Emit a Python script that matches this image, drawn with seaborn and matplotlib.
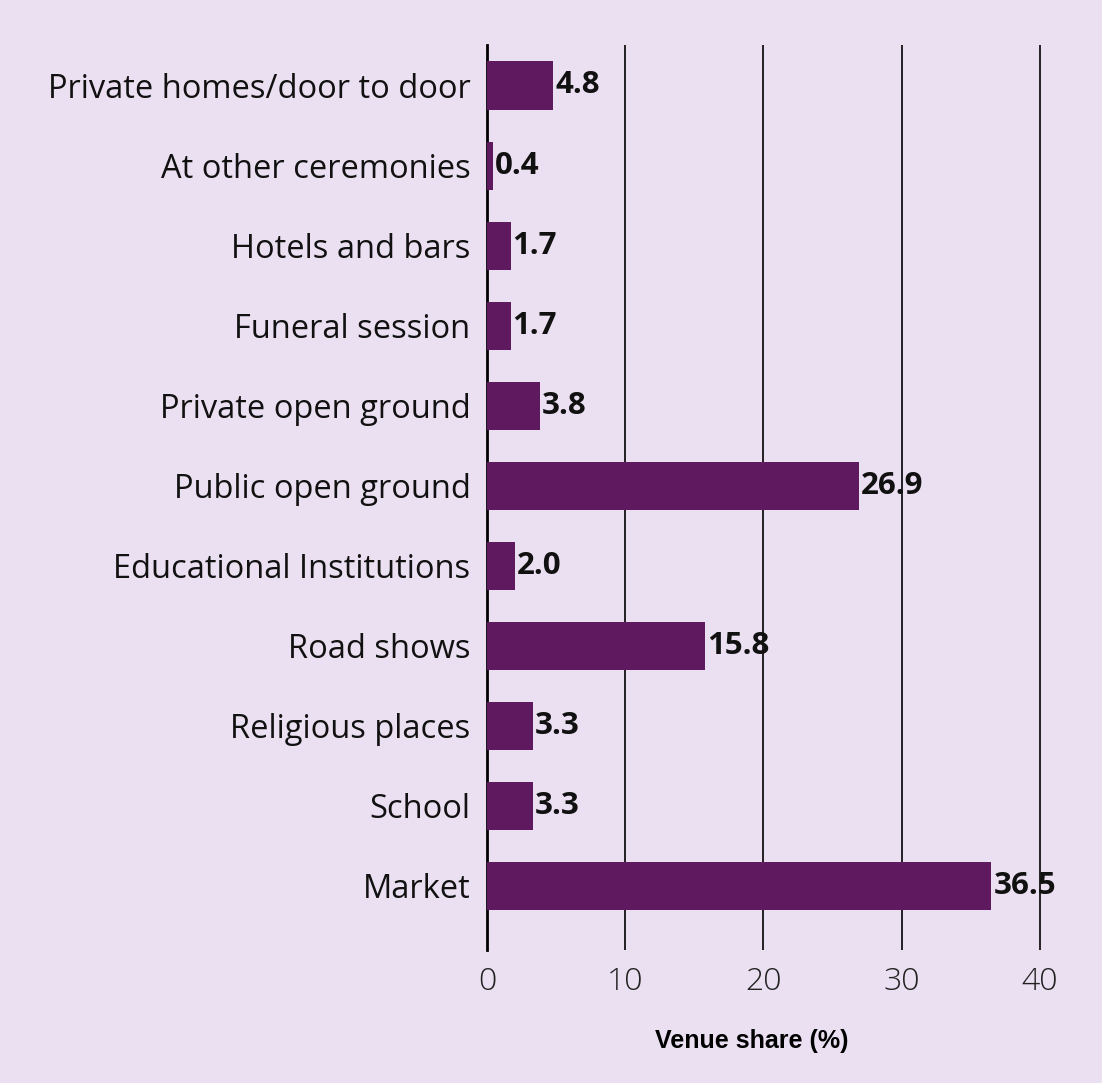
import matplotlib
matplotlib.use("Agg")
import matplotlib.pyplot as plt
import seaborn as sns
import pandas as pd

categories = ["Private homes/door to door", "At other ceremonies", "Hotels and bars",
              "Funeral session", "Private open ground", "Public open ground",
              "Educational Institutions", "Road shows", "Religious places", "School", "Market"]
values = [4.8, 0.4, 1.7, 1.7, 3.8, 26.9, 2.0, 15.8, 3.3, 3.3, 36.5]
value_labels = ["4.8", "0.4", "1.7", "1.7", "3.8", "26.9", "2.0", "15.8", "3.3", "3.3", "36.5"]
xticks = [0, 10, 20, 30, 40]

bg = "#ebe0f1"
bar_color = "#5f1a5f"

sns.set_style("white")
plt.rcParams['font.family'] = ['Open Sans', 'DejaVu Sans']

df = pd.DataFrame({"cat": categories, "val": values})

fig = plt.figure(figsize=(11.02, 10.83), dpi=100, facecolor=bg)
ax = fig.add_axes([0.442, 0.123, 0.514, 0.835])
ax.set_facecolor(bg)

sns.barplot(data=df, x="val", y="cat", orient="h", color=bar_color, width=0.6,
            saturation=1, linewidth=0, ax=ax, zorder=3)

ax.set_xlim(0, 41)
ax.set_ylim(10.8, -0.5)
for x in xticks[1:]:
    ax.axvline(x, color="black", lw=1.2, zorder=1)

for i, (v, lab) in enumerate(zip(values, value_labels)):
    ax.text(v + 0.15, i, lab, va="center", ha="left", fontsize=22.5, fontweight="bold",
            color="#111111", zorder=4)

ax.set_xticks(xticks)
ax.set_xticklabels([str(t) for t in xticks], fontsize=23, fontweight="light", color="#222222")
ax.tick_params(axis="x", length=0, pad=12)
ax.tick_params(axis="y", length=0, pad=12, labelsize=23.5, labelcolor="#111111")
ax.set_ylabel("")
ax.set_xlabel("Venue share (%)", fontsize=18, fontweight="bold", color="black",
              family=['Liberation Sans', 'DejaVu Sans'])
ax.xaxis.set_label_coords(0.467, -0.088)

for s in ["top", "right", "bottom"]:
    ax.spines[s].set_visible(False)
ax.spines["left"].set_color("black")
ax.spines["left"].set_linewidth(2)

fig.savefig("out.png", dpi=100, facecolor=bg)
